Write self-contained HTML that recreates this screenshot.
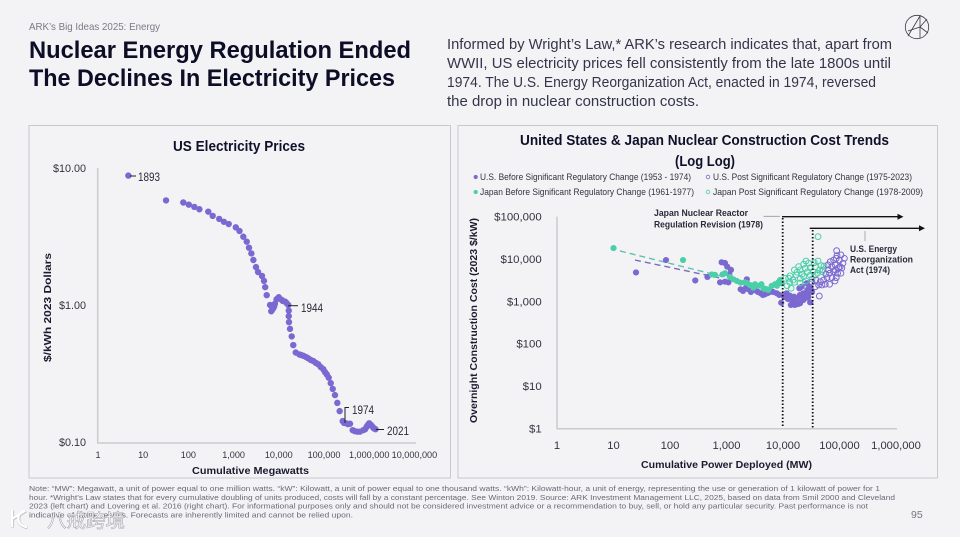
<!DOCTYPE html>
<html lang="en">
<head>
<meta charset="utf-8">
<title>Nuclear Energy Regulation Ended The Declines In Electricity Prices</title>
<style>
html,body{margin:0;padding:0;background:#f3f3f6;}
svg{display:block;font-family:"Liberation Sans","Noto Sans CJK SC",sans-serif;}
.tick{font-size:10px;fill:#33333f;}
.axt{font-size:10.5px;font-weight:bold;fill:#1b1b30;}
.ttl{font-size:14.5px;font-weight:bold;fill:#10102a;}
.body{font-size:14.5px;fill:#35354a;}
.note{font-size:7.3px;fill:#6a6a75;}
.leg{font-size:9.5px;fill:#33333f;}
.ann{font-size:11.5px;fill:#2a2a36;}
.ann2{font-size:9.3px;fill:#2a2a3a;font-weight:bold;}
</style>
</head>
<body>
<svg id="slide" width="960" height="537" viewBox="0 0 960 537" xmlns="http://www.w3.org/2000/svg">
<rect x="0" y="0" width="960" height="537" fill="#f3f3f6"/>

<text x="29" y="30" font-size="10.5" fill="#7a7a84" textLength="131" lengthAdjust="spacingAndGlyphs">ARK’s Big Ideas 2025: Energy</text>
<text x="29" y="58" font-size="24.5" font-weight="bold" fill="#0d0d26" textLength="382" lengthAdjust="spacingAndGlyphs">Nuclear Energy Regulation Ended</text>
<text x="29" y="86" font-size="24.5" font-weight="bold" fill="#0d0d26" textLength="366" lengthAdjust="spacingAndGlyphs">The Declines In Electricity Prices</text>

<text class="body" x="447" y="49" textLength="445" lengthAdjust="spacingAndGlyphs">Informed by Wright’s Law,* ARK’s research indicates that, apart from</text>
<text class="body" x="447" y="68" textLength="444" lengthAdjust="spacingAndGlyphs">WWII, US electricity prices fell consistently from the late 1800s until</text>
<text class="body" x="447" y="87" textLength="429" lengthAdjust="spacingAndGlyphs">1974. The U.S. Energy Reorganization Act, enacted in 1974, reversed</text>
<text class="body" x="447" y="106" textLength="252" lengthAdjust="spacingAndGlyphs">the drop in nuclear construction costs.</text>

<g fill="none" stroke="#3a3a44" stroke-width="0.8">
<circle cx="917" cy="27" r="11.7"/>
<path d="M908 36 L920 16 L920 38 M920 27 L928 33 M920 27 L927 19 M920 27 L908 31"/>
</g>

<rect x="29" y="125.500" width="421.500" height="352.500" fill="#f3f3f6" stroke="#c9c9cd" stroke-width="1"/>
<rect x="458" y="125.500" width="479.500" height="352.500" fill="#f3f3f6" stroke="#c9c9cd" stroke-width="1"/>

<text class="ttl" x="173" y="151" textLength="132" lengthAdjust="spacingAndGlyphs">US Electricity Prices</text>
<line x1="97.700" y1="168" x2="97.700" y2="443.500" stroke="#cbcbcf" stroke-width="1.5"/>
<line x1="97" y1="443" x2="416" y2="443" stroke="#cbcbcf" stroke-width="1.5"/>
<text class="axt" x="192" y="474" textLength="117" lengthAdjust="spacingAndGlyphs">Cumulative Megawatts</text>
<text class="axt" transform="translate(51,362) rotate(-90)" x="0" y="0" textLength="109" lengthAdjust="spacingAndGlyphs">$/kWh 2023 Dollars</text>
<g id="leftTicks"></g>
<g id="leftDots"></g>
<g>
<path d="M130 176 H136" stroke="#222" stroke-width="1" fill="none"/>
<text class="ann" x="138" y="181" textLength="22" lengthAdjust="spacingAndGlyphs">1893</text>
<path d="M288 305.700 H298" stroke="#222" stroke-width="1" fill="none"/>
<text class="ann" x="301" y="312" textLength="22" lengthAdjust="spacingAndGlyphs">1944</text>
<path d="M345 423 V407.500 H349" stroke="#222" stroke-width="1" fill="none"/>
<text class="ann" x="352" y="414" textLength="22" lengthAdjust="spacingAndGlyphs">1974</text>
<path d="M375.700 429.500 H384" stroke="#222" stroke-width="1" fill="none"/>
<text class="ann" x="387" y="435" textLength="22" lengthAdjust="spacingAndGlyphs">2021</text>
</g>

<text class="ttl" x="520" y="145" textLength="369" lengthAdjust="spacingAndGlyphs">United States &amp; Japan Nuclear Construction Cost Trends</text>
<text class="ttl" x="675" y="166" textLength="60" lengthAdjust="spacingAndGlyphs">(Log Log)</text>

<g>
<g>
<circle cx="475.700" cy="177" r="2.100" fill="#7b68d0"/>
<text class="leg" x="480" y="180" textLength="211" lengthAdjust="spacingAndGlyphs">U.S. Before Significant Regulatory Change (1953 - 1974)</text>
</g>
<g>
<circle cx="708" cy="177" r="1.800" fill="none" stroke="#7b68d0" stroke-width="0.8"/>
<text class="leg" x="713" y="180" textLength="199" lengthAdjust="spacingAndGlyphs">U.S. Post Significant Regulatory Change (1975-2023)</text>
</g>
<g>
<circle cx="475.700" cy="192" r="2.100" fill="#4ccfa8"/>
<text class="leg" x="480" y="195" textLength="214" lengthAdjust="spacingAndGlyphs">Japan Before Significant Regulatory Change (1961-1977)</text>
</g>
<g>
<circle cx="708" cy="192" r="1.800" fill="none" stroke="#4ccfa8" stroke-width="0.8"/>
<text class="leg" x="713" y="195" textLength="210" lengthAdjust="spacingAndGlyphs">Japan Post Significant Regulatory Change (1978-2009)</text>
</g>
</g>

<line x1="557" y1="216.500" x2="557" y2="429" stroke="#cbcbcf" stroke-width="1.5"/>
<line x1="556.500" y1="428.700" x2="897" y2="428.700" stroke="#cbcbcf" stroke-width="1.5"/>
<text class="axt" x="641" y="468" textLength="171" lengthAdjust="spacingAndGlyphs">Cumulative Power Deployed (MW)</text>
<text class="axt" transform="translate(477,423) rotate(-90)" x="0" y="0" textLength="205" lengthAdjust="spacingAndGlyphs">Overnight Construction Cost (2023 $/kW)</text>
<g id="rightTicks"></g>

<g id="trends"></g>
<g id="rightDots"></g>

<g>
<line x1="782.700" y1="218" x2="782.700" y2="428" stroke="#111" stroke-width="1.800" stroke-dasharray="1.500 2"/>
<line x1="812.700" y1="230" x2="812.700" y2="428" stroke="#111" stroke-width="1.800" stroke-dasharray="1.500 2"/>
<line x1="763.500" y1="216.300" x2="780" y2="216.300" stroke="#999" stroke-width="0.800"/>
<path d="M782 216.700 H899" stroke="#111" stroke-width="1.300" fill="none"/>
<path d="M897.500 213.700 L903.500 216.700 L897.500 219.700 Z" fill="#111"/>
<path d="M809.700 228.300 H921" stroke="#111" stroke-width="1.300" fill="none"/>
<path d="M919 225.300 L925 228.300 L919 231.300 Z" fill="#111"/>
<line x1="865" y1="231" x2="865" y2="241" stroke="#999" stroke-width="0.800"/>
<text class="ann2" x="654" y="216" textLength="94" lengthAdjust="spacingAndGlyphs">Japan Nuclear Reactor</text>
<text class="ann2" x="654" y="227.500" textLength="109" lengthAdjust="spacingAndGlyphs">Regulation Revision (1978)</text>
<text class="ann2" x="850" y="252" textLength="47" lengthAdjust="spacingAndGlyphs">U.S. Energy</text>
<text class="ann2" x="850" y="262.500" textLength="63" lengthAdjust="spacingAndGlyphs">Reorganization</text>
<text class="ann2" x="850" y="273" textLength="40" lengthAdjust="spacingAndGlyphs">Act (1974)</text>
</g>

<g>
<text class="note" x="29" y="491" textLength="851" lengthAdjust="spacingAndGlyphs">Note: “MW”: Megawatt, a unit of power equal to one million watts. “kW”: Kilowatt, a unit of power equal to one thousand watts. “kWh”: Kilowatt-hour, a unit of energy, representing the use or generation of 1 kilowatt of power for 1</text>
<text class="note" x="29" y="500" textLength="866" lengthAdjust="spacingAndGlyphs">hour. *Wright’s Law states that for every cumulative doubling of units produced, costs will fall by a constant percentage. See Winton 2019. Source: ARK Investment Management LLC, 2025, based on data from Smil 2000 and Cleveland</text>
<text class="note" x="29" y="508.500" textLength="839" lengthAdjust="spacingAndGlyphs">2023 (left chart) and Lovering et al. 2016 (right chart). For informational purposes only and should not be considered investment advice or a recommendation to buy, sell, or hold any particular security. Past performance is not</text>
<text class="note" x="29" y="517.500" textLength="324" lengthAdjust="spacingAndGlyphs">indicative of future results. Forecasts are inherently limited and cannot be relied upon.</text>
</g>
<text x="911" y="518" font-size="10.5" fill="#77777f">95</text>

<g>
<path d="M12.500 510.500 V527.500 M13 519 L26 511 M26 511 C16 513 16 526 27.500 527.500" fill="none" stroke="#b4b4b8" stroke-width="3.200" opacity="0.7"/>
<path d="M12 510 V527 M12.500 518.500 L25.500 510.500 M25.500 510.500 C15.500 512.500 15.500 525.500 27 527" fill="none" stroke="#ffffff" stroke-width="2.200"/>
<text x="47" y="527" font-size="19" fill="#ffffff" stroke="#a8a8ac" stroke-width="0.600" textLength="78" lengthAdjust="spacingAndGlyphs">八戒跨境</text>
</g>
</svg>

<script>
var NS = 'http://www.w3.org/2000/svg';

/* ---------- Left chart data ---------- */
var leftXTickValues = [1, 10, 100, 1000, 10000, 100000, 1000000, 10000000];
var leftXTickLabels = ['1', '10', '100', '1,000', '10,000', '100,000', '1,000,000', '10,000,000'];
var leftYTickValues = [10, 1, 0.1];
var leftYTickLabels = ['$10.00', '$1.00', '$0.10'];
var electricityMegawatts = [4.7, 32, 77, 102, 135, 175, 275, 345, 480, 610, 780, 1120, 1350, 1640, 1950, 2190, 2470, 2740, 3130, 3470, 4250, 4700, 5000, 5400, 6400, 6800, 7100, 7600, 7900, 8200, 8900, 9550, 10000, 11600, 12300, 13700, 14800, 16200, 16600, 16600, 16800, 17700, 19300, 20900, 23700, 28400, 31000, 34900, 40000, 44900, 51000, 57900, 66000, 74800, 85000, 96500, 105000, 115000, 127000, 141000, 156000, 175000, 197000, 222000, 259000, 277000, 308000, 340000, 376000, 431000, 479000, 548000, 625000, 741000, 813000, 876000, 933000, 1000000, 1100000, 1190000, 1260000, 1380000];
var electricityPrices = [8.8, 5.8, 5.6, 5.4, 5.2, 5.0, 4.8, 4.47, 4.25, 4.05, 3.9, 3.69, 3.47, 3.15, 2.9, 2.62, 2.38, 2.13, 1.89, 1.74, 1.63, 1.5, 1.35, 1.18, 1.0, 0.9, 0.92, 0.95, 0.98, 1.02, 1.1, 1.12, 1.14, 1.09, 1.07, 1.06, 1.035, 1.0, 0.91, 0.83, 0.75, 0.67, 0.59, 0.51, 0.45, 0.436, 0.432, 0.426, 0.417, 0.408, 0.397, 0.39, 0.378, 0.369, 0.352, 0.34, 0.324, 0.312, 0.295, 0.269, 0.244, 0.22, 0.193, 0.168, 0.142, 0.138, 0.137, 0.135, 0.136, 0.122, 0.12, 0.119, 0.119, 0.122, 0.124, 0.129, 0.133, 0.137, 0.133, 0.129, 0.126, 0.124];

/* ---------- Right chart data ---------- */
var rightXTickValues = [1, 10, 100, 1000, 10000, 100000, 1000000];
var rightXTickLabels = ['1', '10', '100', '1,000', '10,000', '100,000', '1,000,000'];
var rightYTickValues = [100000, 10000, 1000, 100, 10, 1];
var rightYTickLabels = ['$100,000', '$10,000', '$1,000', '$100', '$10', '$1'];

var usBeforeMW = [25, 85, 280, 460, 820, 940, 1030, 1200, 1120, 940, 770, 1080, 1780, 2290, 2210, 2980, 3420, 4030, 4800, 5900, 7760, 8600, 10200, 11600, 13300, 15700, 20000, 22900, 27000, 29200, 26300, 21400, 19500, 30900, 9300, 13800, 16200, 20000, 22900, 28000, 30200, 25700, 17800, 1960, 2400, 2700, 3600, 4400, 5400, 6650, 10800, 12200, 14400, 17000, 21700, 24500, 32600, 27700, 18400];
var usBeforeCost = [4800, 9400, 3100, 3750, 8300, 8000, 6550, 5500, 4300, 2900, 2800, 2800, 1920, 3300, 2100, 1850, 1750, 1540, 1460, 1680, 1540, 1410, 1355, 1540, 1355, 1280, 1410, 1540, 1850, 2210, 2660, 2210, 2030, 1850, 925, 820, 820, 897, 1070, 1280, 947, 1215, 1175, 1750, 1950, 1660, 1660, 1410, 1570, 1660, 1260, 1130, 1070, 1070, 1200, 1410, 1660, 1660, 863];

var japanBeforeMW = [10, 170, 550, 625, 850, 940, 1320, 1780, 2120, 2600, 2980, 3200, 4150, 4500, 5500, 6300, 7200, 8300, 9500, 8900, 7800, 1150, 1530, 2300, 3600, 5000];
var japanBeforeCost = [18000, 9400, 4300, 4200, 4300, 4600, 3300, 2750, 2800, 2420, 2100, 2520, 2520, 2030, 1850, 2300, 2520, 2800, 2660, 3180, 2330, 3750, 3010, 2700, 2300, 1950];

var japanPostMW = [41700, 11000, 12600, 13100, 11800, 13900, 15000, 17200, 15900, 18900, 23200, 28400, 35800, 47100, 20200, 24800, 30400, 37300, 44500, 17700, 21700, 27200, 34000, 40900, 49000, 23200, 30400, 37300, 20200, 15900, 51000, 13300, 25500, 41700, 53200, 32600, 25500, 20000];
var japanPostCost = [33400, 3490, 3490, 2810, 2330, 2030, 3180, 4170, 5500, 6550, 7500, 7900, 8150, 6920, 5500, 6000, 6200, 6550, 5500, 4840, 4340, 5000, 5000, 4580, 5000, 3810, 4170, 4170, 3490, 2810, 5500, 3960, 8940, 8940, 6800, 3360, 3010, 2700];

var usPostMW = [43900, 37300, 42700, 49000, 56100, 66800, 45700, 52300, 60100, 73600, 87700, 66800, 78700, 92500, 106000, 73600, 84300, 96400, 115000, 100000, 87700, 88900, 106000, 68700, 78700, 90300, 122000, 84300, 103000, 64100, 32600, 38400, 62500, 110000, 83200, 57500];
var usPostCost = [1330, 2210, 2420, 2420, 2520, 2520, 2900, 3180, 3610, 3610, 3610, 4580, 5000, 4580, 4580, 6550, 7200, 6200, 7900, 9400, 10300, 15600, 12400, 8600, 9400, 11900, 10300, 5500, 6550, 5500, 2850, 3180, 7200, 6100, 3010, 4410];

var japanTrendMW = [13, 1410];
var japanTrendCost = [15400, 3250];
var usTrendMW = [24, 770];
var usTrendCost = [9400, 3550];

/* ---------- Axis functions ---------- */
function leftX(v) { return 98 + 45.2 * Math.log10(v); }
function leftY(v) { return 305 - 137 * Math.log10(v); }
function rightX(v) { return 557 + 56.5 * Math.log10(v); }
function rightY(v) { return 428.5 - 42.4 * Math.log10(v); }

var leftTicks = document.getElementById('leftTicks');
var rightTicks = document.getElementById('rightTicks');
var leftDots = document.getElementById('leftDots');
var rightDots = document.getElementById('rightDots');
var trends = document.getElementById('trends');

leftXTickValues.forEach(function (v, i) {
  var t = document.createElementNS(NS, 'text');
  
  
  t.setAttribute('class', 'tick');
  t.setAttribute('x', leftX(v));
  t.setAttribute('y', 458);
  t.setAttribute('text-anchor', 'middle');
  t.setAttribute('style', 'font-size:9.1px');
  t.textContent = leftXTickLabels[i];
  leftTicks.appendChild(t);
});

leftYTickValues.forEach(function (v, i) {
  var t = document.createElementNS(NS, 'text');
  
  
  t.setAttribute('class', 'tick');
  t.setAttribute('x', 86);
  t.setAttribute('y', leftY(v) + 3.8);
  t.setAttribute('text-anchor', 'end');
  t.setAttribute('style', 'font-size:10.8px');
  t.textContent = leftYTickLabels[i];
  leftTicks.appendChild(t);
});

rightXTickValues.forEach(function (v, i) {
  var t = document.createElementNS(NS, 'text');
  
  
  t.setAttribute('class', 'tick');
  t.setAttribute('x', rightX(v));
  t.setAttribute('y', 449);
  t.setAttribute('text-anchor', 'middle');
  t.setAttribute('style', 'font-size:11.2px');
  t.textContent = rightXTickLabels[i];
  rightTicks.appendChild(t);
});

rightYTickValues.forEach(function (v, i) {
  var t = document.createElementNS(NS, 'text');
  
  
  t.setAttribute('class', 'tick');
  t.setAttribute('x', 541.7);
  t.setAttribute('y', rightY(v) + 4);
  t.setAttribute('text-anchor', 'end');
  t.setAttribute('style', 'font-size:11.4px');
  t.textContent = rightYTickLabels[i];
  rightTicks.appendChild(t);
});

electricityMegawatts.forEach(function (v, i) {
  var c = document.createElementNS(NS, 'circle');
  
  
  c.setAttribute('cx', leftX(v));
  c.setAttribute('cy', leftY(electricityPrices[i]));
  c.setAttribute('r', 3.2);
  c.setAttribute('fill', '#7b68d0');
  leftDots.appendChild(c);
});

var japanTrend = document.createElementNS(NS, 'line');


japanTrend.setAttribute('x1', rightX(japanTrendMW[0]));
japanTrend.setAttribute('y1', rightY(japanTrendCost[0]));
japanTrend.setAttribute('x2', rightX(japanTrendMW[1]));
japanTrend.setAttribute('y2', rightY(japanTrendCost[1]));
japanTrend.setAttribute('stroke', '#5fc4a8');
japanTrend.setAttribute('stroke-width', '1.4');
japanTrend.setAttribute('stroke-dasharray', '6 4');
trends.appendChild(japanTrend);

var usTrend = document.createElementNS(NS, 'line');


usTrend.setAttribute('x1', rightX(usTrendMW[0]));
usTrend.setAttribute('y1', rightY(usTrendCost[0]));
usTrend.setAttribute('x2', rightX(usTrendMW[1]));
usTrend.setAttribute('y2', rightY(usTrendCost[1]));
usTrend.setAttribute('stroke', '#7c6cb8');
usTrend.setAttribute('stroke-width', '1.4');
usTrend.setAttribute('stroke-dasharray', '6 4');
trends.appendChild(usTrend);

usBeforeMW.forEach(function (v, i) {
  var c = document.createElementNS(NS, 'circle');
  
  
  c.setAttribute('cx', rightX(v));
  c.setAttribute('cy', rightY(usBeforeCost[i]));
  c.setAttribute('r', 3.1);
  c.setAttribute('fill', '#7b68d0');
  rightDots.appendChild(c);
});

japanBeforeMW.forEach(function (v, i) {
  var c = document.createElementNS(NS, 'circle');
  
  
  c.setAttribute('cx', rightX(v));
  c.setAttribute('cy', rightY(japanBeforeCost[i]));
  c.setAttribute('r', 3.1);
  c.setAttribute('fill', '#4ccfa8');
  rightDots.appendChild(c);
});

japanPostMW.forEach(function (v, i) {
  var c = document.createElementNS(NS, 'circle');
  
  
  c.setAttribute('cx', rightX(v));
  c.setAttribute('cy', rightY(japanPostCost[i]));
  c.setAttribute('r', 2.9);
  c.setAttribute('fill', 'none');
  c.setAttribute('stroke', '#4ccfa8');
  c.setAttribute('stroke-width', '1');
  rightDots.appendChild(c);
});

usPostMW.forEach(function (v, i) {
  var c = document.createElementNS(NS, 'circle');
  
  
  c.setAttribute('cx', rightX(v));
  c.setAttribute('cy', rightY(usPostCost[i]));
  c.setAttribute('r', 2.9);
  c.setAttribute('fill', 'none');
  c.setAttribute('stroke', '#7b68d0');
  c.setAttribute('stroke-width', '1');
  rightDots.appendChild(c);
});
</script>
</body>
</html>
